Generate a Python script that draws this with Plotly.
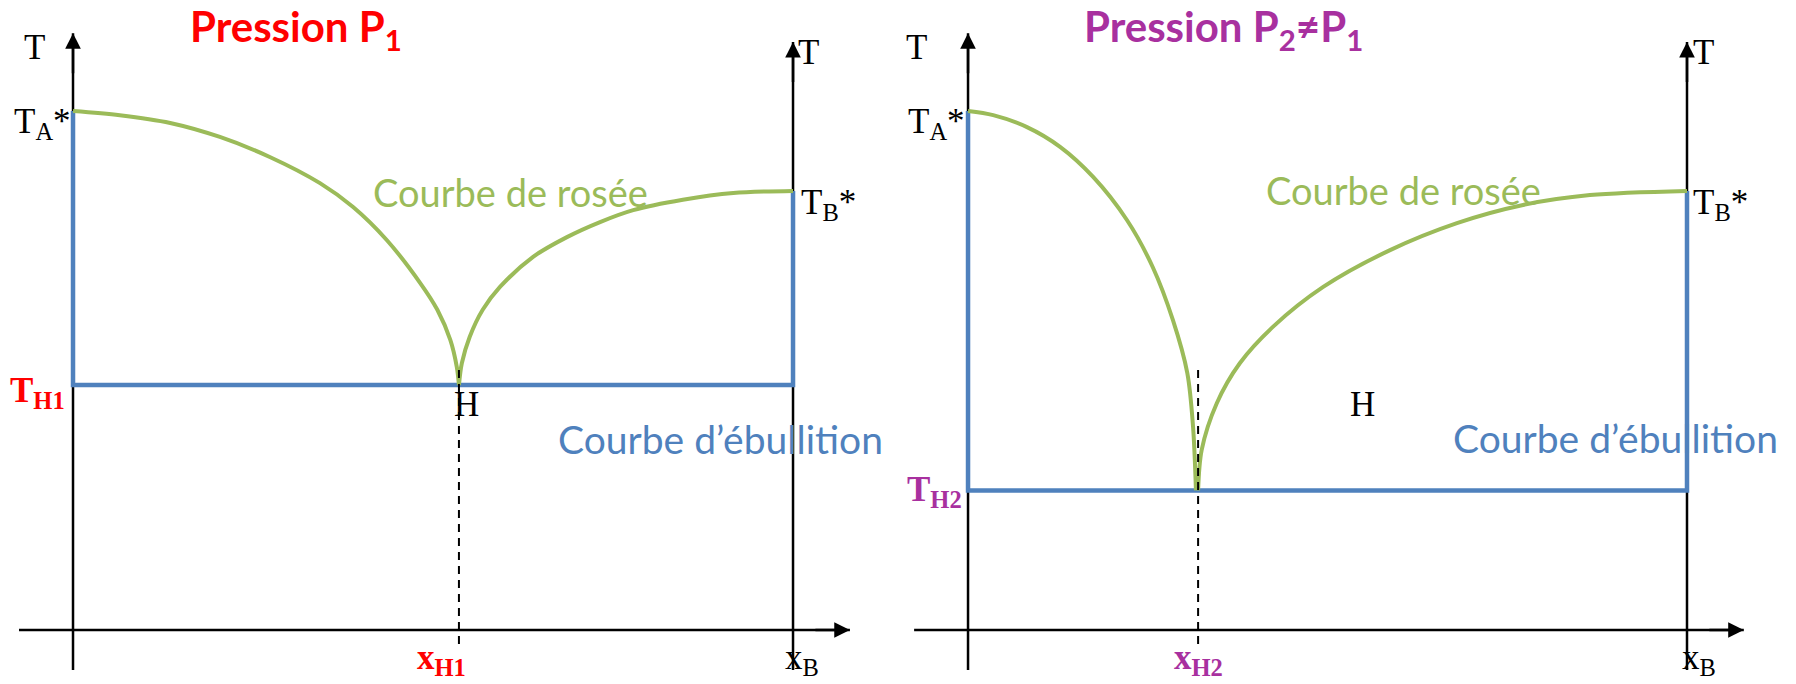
import plotly.graph_objects as go

# Composition axis: 0 = pure A, 1 = pure B (x_B). Temperature in arbitrary units (T_A* = 100).
TA_STAR = 100.0
TB_STAR = 84.6

# ---------- Pression P1 ----------
P1_TH = 47.2     # T_H1
P1_XH = 0.536    # x_H1

p1_rosee_a_x = [0.0, 0.065, 0.135, 0.204, 0.274, 0.343, 0.389, 0.436, 0.482, 0.506, 0.524, 0.533, 0.536]
p1_rosee_a_T = [100.0, 99.2, 97.7, 95.0, 91.1, 86.1, 81.5, 75.1, 66.9, 61.7, 55.9, 50.7, 47.2]

p1_rosee_b_x = [0.536, 0.540, 0.551, 0.569, 0.593, 0.639, 0.686, 0.732, 0.778, 0.847, 0.917, 1.0]
p1_rosee_b_T = [47.2, 51.4, 56.5, 61.7, 66.1, 71.9, 75.7, 78.6, 80.9, 82.9, 84.2, 84.6]

# ---------- Pression P2 ----------
P2_TH = 26.9     # T_H2
P2_XH = 0.320    # x_H2

p2_rosee_a_x = [0.0, 0.035, 0.082, 0.128, 0.174, 0.221, 0.257, 0.285, 0.305, 0.313, 0.317]
p2_rosee_a_T = [100.0, 99.2, 96.9, 93.1, 87.3, 79.0, 69.9, 59.7, 49.5, 39.1, 26.9]

p2_rosee_b_x = [0.320, 0.325, 0.346, 0.378, 0.424, 0.494, 0.587, 0.680, 0.772, 0.865, 1.0]
p2_rosee_b_T = [26.9, 34.7, 43.7, 51.4, 58.4, 66.1, 73.2, 78.4, 81.9, 83.8, 84.6]

# Axis extents (data units)
T_AXIS_TOP_LEFT = 115.0
T_AXIS_TOP_RIGHT = 113.3
T_AXIS_BOTTOM = -7.7
X_AXIS_START = -0.075
X_AXIS_END = 1.079
DASH_TOP = 50.1
DASH_BOTTOM = -2.8

BLUE = "#4F81BD"
GREEN = "#9BBB59"
RED = "#FF0000"
PURPLE = "#A8309F"
SERIF = "Liberation Serif"
SANS = "Lato"
SERIF_SIZE = 35

fig = go.Figure()

panels = [
    dict(xa="x", ya="y", TH=P1_TH, XH=P1_XH,
         ra=(p1_rosee_a_x, p1_rosee_a_T), rb=(p1_rosee_b_x, p1_rosee_b_T)),
    dict(xa="x2", ya="y2", TH=P2_TH, XH=P2_XH,
         ra=(p2_rosee_a_x, p2_rosee_a_T), rb=(p2_rosee_b_x, p2_rosee_b_T)),
]

for p in panels:
    # black axes
    fig.add_trace(go.Scatter(
        x=[0, 0, None, 1, 1, None, X_AXIS_START, X_AXIS_END],
        y=[T_AXIS_BOTTOM, T_AXIS_TOP_LEFT, None, T_AXIS_BOTTOM, T_AXIS_TOP_RIGHT, None, 0, 0],
        mode="lines", line=dict(color="black", width=2.5),
        xaxis=p["xa"], yaxis=p["ya"], hoverinfo="skip"))
    # boiling curve (courbe d'ébullition)
    fig.add_trace(go.Scatter(
        x=[0, 0, 1, 1], y=[TA_STAR, p["TH"], p["TH"], TB_STAR],
        mode="lines", line=dict(color=BLUE, width=4.5),
        xaxis=p["xa"], yaxis=p["ya"], hoverinfo="skip"))
    # dew curve (courbe de rosée), two branches
    for xs, ts in (p["ra"], p["rb"]):
        fig.add_trace(go.Scatter(
            x=xs, y=ts, mode="lines",
            line=dict(color=GREEN, width=4, shape="spline", smoothing=0.9),
            xaxis=p["xa"], yaxis=p["ya"], hoverinfo="skip"))
    # azeotrope composition
    fig.add_trace(go.Scatter(
        x=[p["XH"], p["XH"]], y=[DASH_TOP, DASH_BOTTOM], mode="lines",
        line=dict(color="black", width=2, dash="8px,6px"),
        xaxis=p["xa"], yaxis=p["ya"], hoverinfo="skip"))

annotations = []


def arrow(xref, yref, x, y, ax, ay):
    annotations.append(dict(
        xref=xref, yref=yref, axref=xref, ayref=yref,
        x=x, y=y, ax=ax, ay=ay, text="", showarrow=True,
        arrowhead=2, arrowsize=1.25, arrowwidth=2.5, arrowcolor="black"))


def label(xref, yref, x, y, text, size, color="black", family=SERIF,
          xanchor="center", yanchor="middle"):
    annotations.append(dict(
        xref=xref, yref=yref, x=x, y=y, text=text, showarrow=False,
        xanchor=xanchor, yanchor=yanchor,
        font=dict(family=family, size=size, color=color)))


for xr, yr in (("x", "y"), ("x2", "y2")):
    arrow(xr, yr, 0, T_AXIS_TOP_LEFT, 0, T_AXIS_TOP_LEFT - 8)
    arrow(xr, yr, 1, T_AXIS_TOP_RIGHT, 1, T_AXIS_TOP_RIGHT - 8)
    arrow(xr, yr, X_AXIS_END, 0, X_AXIS_END - 0.05, 0)

S = SERIF_SIZE
# Left panel texts
label("x", "y", 0.160, 115.8, "<b>Pression P<sub>1</sub></b>", 42, RED, SANS, xanchor="left")
label("x", "y", -0.054, 112.3, "T", S)
label("x", "y", 0.0, 97.6, "T<sub>A</sub>*", S, xanchor="right")
label("x", "y", 1.004, 111.2, "T", S, xanchor="left")
label("x", "y", 1.008, 82.0, "T<sub>B</sub>*", S, xanchor="left")
label("x", "y", -0.008, 45.8, "<b>T<sub>H1</sub></b>", S, RED, xanchor="right")
label("x", "y", 0.547, 43.4, "H", S)
label("x", "y", 0.512, -10.2, "<b>x<sub>H1</sub></b>", S, RED, yanchor="bottom")
label("x", "y", 1.012, -10.2, "x<sub>B</sub>", S, yanchor="bottom")
label("x", "y", 0.608, 84.4, "Courbe de rosée", 38, GREEN, SANS)
label("x", "y", 0.899, 36.8, "Courbe d’ébullition", 39, BLUE, SANS)

# Right panel texts
label("x2", "y2", 0.159, 115.8, "<b>Pression P<sub>2</sub>≠P<sub>1</sub></b>", 42, PURPLE, SANS, xanchor="left")
label("x2", "y2", -0.072, 112.3, "T", S)
label("x2", "y2", -0.002, 97.6, "T<sub>A</sub>*", S, xanchor="right")
label("x2", "y2", 1.005, 111.2, "T", S, xanchor="left")
label("x2", "y2", 1.006, 82.0, "T<sub>B</sub>*", S, xanchor="left")
label("x2", "y2", -0.005, 26.6, "<b>T<sub>H2</sub></b>", S, PURPLE, xanchor="right")
label("x2", "y2", 0.548, 43.5, "H", S)
label("x2", "y2", 0.320, -10.2, "<b>x<sub>H2</sub></b>", S, PURPLE, yanchor="bottom")
label("x2", "y2", 1.016, -10.2, "x<sub>B</sub>", S, yanchor="bottom")
label("x2", "y2", 0.605, 84.8, "Courbe de rosée", 38, GREEN, SANS)
label("x2", "y2", 0.900, 37.0, "Courbe d’ébullition", 39, BLUE, SANS)

hidden = dict(visible=False, showgrid=False, zeroline=False, fixedrange=True)
fig.update_layout(
    width=1796, height=684,
    margin=dict(l=0, r=0, t=0, b=0),
    paper_bgcolor="white", plot_bgcolor="white",
    showlegend=False,
    xaxis=dict(domain=[0, 0.5], range=[-0.1014, 1.1458], **hidden),
    yaxis=dict(domain=[0, 1], range=[-10.405, 121.39], **hidden),
    xaxis2=dict(domain=[0.5, 1], range=[-0.0974, 1.1516], anchor="y2", **hidden),
    yaxis2=dict(domain=[0, 1], range=[-10.405, 121.39], anchor="x2", **hidden),
    annotations=annotations,
)

fig.write_html("out.html")
